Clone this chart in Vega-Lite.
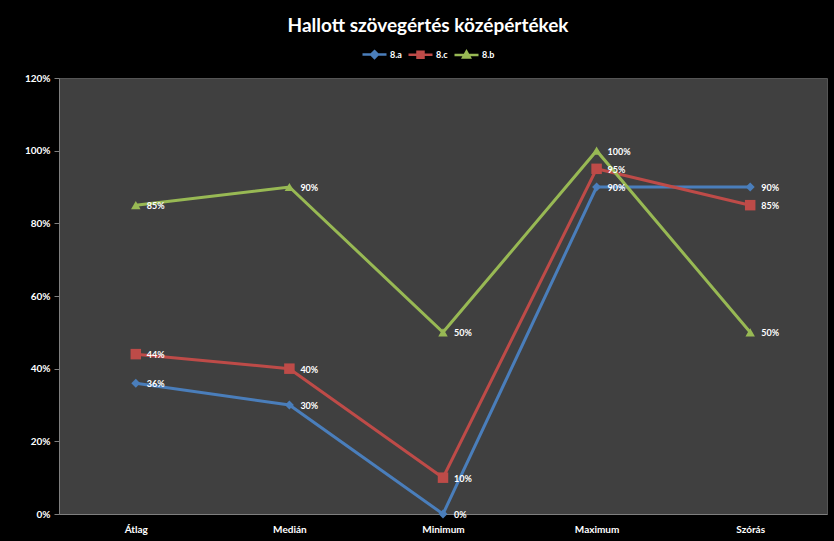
{
  "$schema": "https://vega.github.io/schema/vega-lite/v6.json",
  "autosize": "none",
  "width": 768,
  "height": 436,
  "padding": {"left": 59, "top": 78, "right": 7, "bottom": 27},
  "background": "black",
  "title": {
    "text": "Hallott szövegértés középértékek",
    "color": "white",
    "font": "Lato",
    "fontSize": 19,
    "fontWeight": "bold",
    "anchor": "middle",
    "frame": "group",
    "dx": -15,
    "offset": 5
  },
  "config": {
    "view": {"fill": "#404040", "stroke": "#555555"},
    "font": "Lato"
  },
  "data": {
    "values": [
      {"stat": "Átlag", "series": "8.a", "value": 0.36},
      {"stat": "Medián", "series": "8.a", "value": 0.30},
      {"stat": "Minimum", "series": "8.a", "value": 0.0},
      {"stat": "Maximum", "series": "8.a", "value": 0.90},
      {"stat": "Szórás", "series": "8.a", "value": 0.90},
      {"stat": "Átlag", "series": "8.c", "value": 0.44},
      {"stat": "Medián", "series": "8.c", "value": 0.40},
      {"stat": "Minimum", "series": "8.c", "value": 0.10},
      {"stat": "Maximum", "series": "8.c", "value": 0.95},
      {"stat": "Szórás", "series": "8.c", "value": 0.85},
      {"stat": "Átlag", "series": "8.b", "value": 0.85},
      {"stat": "Medián", "series": "8.b", "value": 0.90},
      {"stat": "Minimum", "series": "8.b", "value": 0.50},
      {"stat": "Maximum", "series": "8.b", "value": 1.00},
      {"stat": "Szórás", "series": "8.b", "value": 0.50}
    ]
  },
  "encoding": {
    "x": {
      "field": "stat",
      "type": "nominal",
      "sort": ["Átlag", "Medián", "Minimum", "Maximum", "Szórás"],
      "scale": {"type": "point", "padding": 0.5},
      "axis": {
        "title": null,
        "labelAngle": 0,
        "labelColor": "white",
        "labelFont": "Lato",
        "labelFontSize": 10,
        "labelFontWeight": "bold",
        "labelPadding": 10,
        "ticks": false,
        "domainColor": "#7f7f7f",
        "grid": false
      }
    },
    "y": {
      "field": "value",
      "type": "quantitative",
      "scale": {"domain": [0, 1.2], "nice": false},
      "axis": {
        "title": null,
        "format": ".0%",
        "values": [0, 0.2, 0.4, 0.6, 0.8, 1.0, 1.2],
        "labelColor": "white",
        "labelFont": "Lato",
        "labelFontSize": 10,
        "labelFontWeight": "bold",
        "labelPadding": 4,
        "tickSize": 5,
        "tickColor": "#7f7f7f",
        "domainColor": "#7f7f7f",
        "grid": false
      }
    },
    "color": {
      "field": "series",
      "type": "nominal",
      "scale": {"domain": ["8.a", "8.c", "8.b"], "range": ["#4a7ebb", "#be4b48", "#98b954"]},
      "legend": {
        "title": null,
        "orient": "none",
        "direction": "horizontal",
        "legendX": 302,
        "legendY": -37,
        "labelColor": "white",
        "labelFont": "Lato",
        "labelFontSize": 9,
        "labelFontWeight": "bold",
        "symbolSize": 576,
        "symbolStrokeWidth": 2.5,
        "labelOffset": 2,
        "columnPadding": 1,
        "encode": {
          "symbols": {
            "update": {
              "shape": {"signal": "datum.value === '8.a' ? 'M-1,0H1M0,-0.28L0.28,0L0,0.28L-0.28,0Z' : datum.value === '8.c' ? 'M-1,0H1M-0.25,-0.25H0.25V0.25H-0.25Z' : 'M-1,0H1M0,-0.28L0.28,0.22H-0.28Z'"},
              "fill": {"signal": "datum.value === '8.a' ? '#4a7ebb' : datum.value === '8.c' ? '#be4b48' : '#98b954'"},
              "stroke": {"signal": "datum.value === '8.a' ? '#4a7ebb' : datum.value === '8.c' ? '#be4b48' : '#98b954'"}
            }
          }
        }
      }
    }
  },
  "layer": [
    {"mark": {"type": "line", "strokeWidth": 3}},
    {
      "transform": [{"filter": "datum.series === '8.a'"}],
      "mark": {"type": "point", "filled": true, "opacity": 1, "shape": "diamond", "size": 80}
    },
    {
      "transform": [{"filter": "datum.series === '8.c'"}],
      "mark": {"type": "point", "filled": true, "opacity": 1, "shape": "square", "size": 110}
    },
    {
      "transform": [{"filter": "datum.series === '8.b'"}],
      "mark": {"type": "point", "filled": true, "opacity": 1, "shape": "triangle-up", "size": 90}
    },
    {
      "mark": {"type": "text", "align": "left", "baseline": "middle", "dx": 11, "dy": 1, "color": "white", "font": "Lato", "fontSize": 9, "fontWeight": "bold"},
      "encoding": {
        "text": {"field": "value", "type": "quantitative", "format": ".0%"},
        "color": {"value": "white"}
      }
    }
  ]
}
